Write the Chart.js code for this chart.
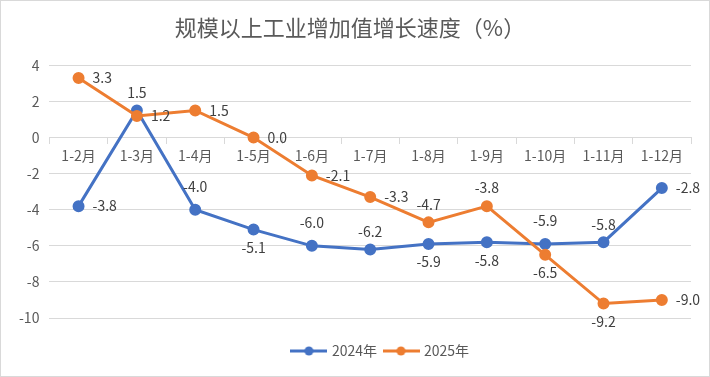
<!DOCTYPE html>
<html lang="zh-CN">
<head>
<meta charset="UTF-8">
<title>规模以上工业增加值增长速度（%）</title>
<script src="https://cdn.jsdelivr.net/npm/chart.js"></script>
<style>
  html, body { margin: 0; padding: 0; background: #fff; }
  .wrap { width: 710px; height: 377px; position: relative; }
</style>
</head>
<body>
<div class="wrap"><canvas id="chart"></canvas></div>
<script>
// 数据
const months = ['1-2月', '1-3月', '1-4月', '1-5月', '1-6月', '1-7月', '1-8月', '1-9月', '1-10月', '1-11月', '1-12月'];
const v2024 = [-3.8, 1.5, -4.0, -5.1, -6.0, -6.2, -5.9, -5.8, -5.9, -5.8, -2.8];
const v2025 = [3.3, 1.2, 1.5, 0.0, -2.1, -3.3, -4.7, -3.8, -6.5, -9.2, -9.0];
const yTicks = [4, 2, 0, -2, -4, -6, -8, -10];

// 数据标签位置: r 右, t 上, T 上(稍远), b 下
const pos2024 = ['r', 't', 'T', 'b', 'T', 't', 'b', 'b', 'T', 't', 'r'];
const pos2025 = ['r', 'r', 'r', 'r', 'r', 'r', 't', 't', 'b', 'b', 'r'];

const FONT = '"Noto Sans CJK SC", "Noto Sans", sans-serif';
const BLUE = '#4472C4';
const ORANGE = '#ED7D31';

// 图例: 线 + 圆点
function legendIcon(color) {
    const c = document.createElement('canvas');
    c.width = 37; c.height = 10;
    const g = c.getContext('2d');
    g.strokeStyle = color; g.lineWidth = 3;
    g.beginPath(); g.moveTo(0, 5); g.lineTo(37, 5); g.stroke();
    g.fillStyle = color;
    g.beginPath(); g.arc(18.5, 5, 4.5, 0, Math.PI * 2); g.fill();
    return c;
}
const icons = [legendIcon(BLUE), legendIcon(ORANGE)];

// 白底 + 外框
const frame = {
    id: 'frame',
    beforeDraw(chart) {
        const ctx = chart.ctx;
        ctx.save();
        ctx.fillStyle = '#fff';
        ctx.fillRect(0, 0, chart.width, chart.height);
        ctx.strokeStyle = '#d9d9d9';
        ctx.lineWidth = 1;
        ctx.strokeRect(0.5, 0.5, chart.width - 1, chart.height - 1);
        ctx.restore();
    }
};

// 图例整体右移一点
const legendShift = {
    id: 'legendShift',
    beforeInit(chart) {
        const lg = chart.legend;
        if (!lg) return;
        const draw = lg.draw.bind(lg);
        lg.draw = function () {
            this.ctx.save();
            this.ctx.translate(31, 0);
            draw();
            this.ctx.restore();
        };
    }
};

// 数据标签
const pointLabels = {
    id: 'pointLabels',
    afterDatasetsDraw(chart) {
        const ctx = chart.ctx;
        ctx.save();
        ctx.font = '14px ' + FONT;
        ctx.fillStyle = '#404040';
        ctx.textBaseline = 'middle';
        chart.data.datasets.forEach((ds, i) => {
            const meta = chart.getDatasetMeta(i);
            meta.data.forEach((pt, j) => {
                const text = ds.data[j].toFixed(1);
                const p = ds.labelPos[j];
                if (p === 'r') {
                    ctx.textAlign = 'left';
                    ctx.fillText(text, pt.x + 14, pt.y);
                } else if (p === 't' || p === 'T') {
                    ctx.textAlign = 'center';
                    ctx.fillText(text, pt.x, pt.y - (p === 'T' ? 23 : 18));
                } else {
                    ctx.textAlign = 'center';
                    ctx.fillText(text, pt.x, pt.y + 18);
                }
            });
        });
        ctx.restore();
    }
};

new Chart(document.getElementById('chart'), {
    type: 'line',
    data: {
        labels: months,
        datasets: [{
            label: '2024年',
            data: v2024,
            labelPos: pos2024,
            borderColor: BLUE,
            backgroundColor: BLUE,
            borderWidth: 3,
            pointRadius: 4.5,
            pointHoverRadius: 4.5,
            order: 2
        }, {
            label: '2025年',
            data: v2025,
            labelPos: pos2025,
            borderColor: ORANGE,
            backgroundColor: ORANGE,
            borderWidth: 3,
            pointRadius: 4.5,
            pointHoverRadius: 4.5,
            order: 1
        }]
    },
    options: {
        responsive: true,
        maintainAspectRatio: false,
        animation: false,
        layout: { padding: { left: 9, right: 19, top: 0, bottom: 9 } },
        plugins: {
            title: {
                display: true,
                text: '规模以上工业增加值增长速度（%）',
                color: '#595959',
                font: { family: FONT, size: 22, weight: 'normal' },
                padding: { top: 14, bottom: 25 }
            },
            legend: {
                position: 'bottom',
                title: {
                    display: true,
                    text: '',
                    font: { size: 10 },
                    padding: { top: 6, bottom: 0 }
                },
                labels: {
                    color: '#595959',
                    font: { family: FONT, size: 14 },
                    usePointStyle: true,
                    pointStyleWidth: 32,
                    boxHeight: 10,
                    padding: 8,
                    sort: (a, b) => a.datasetIndex - b.datasetIndex,
                    generateLabels(chart) {
                        const items = Chart.defaults.plugins.legend.labels.generateLabels(chart);
                        items.forEach(it => { it.pointStyle = icons[it.datasetIndex]; });
                        return items;
                    }
                }
            },
            tooltip: { enabled: false }
        },
        scales: {
            x: {
                position: { y: 0 },
                offset: true,
                grid: {
                    offset: true,
                    drawOnChartArea: false,
                    drawTicks: true,
                    tickLength: 6,
                    color: '#d9d9d9'
                },
                border: { color: '#d9d9d9' },
                ticks: {
                    color: '#595959',
                    font: { family: FONT, size: 14 },
                    padding: 4,
                    maxRotation: 0,
                    autoSkip: false
                }
            },
            y: {
                min: Math.min(...yTicks),
                max: Math.max(...yTicks),
                ticks: {
                    stepSize: 2,
                    color: '#595959',
                    font: { family: FONT, size: 14 },
                    padding: 10
                },
                grid: { color: '#d9d9d9', drawTicks: false },
                border: { display: false }
            }
        }
    },
    plugins: [frame, legendShift, pointLabels]
});
</script>
</body>
</html>
